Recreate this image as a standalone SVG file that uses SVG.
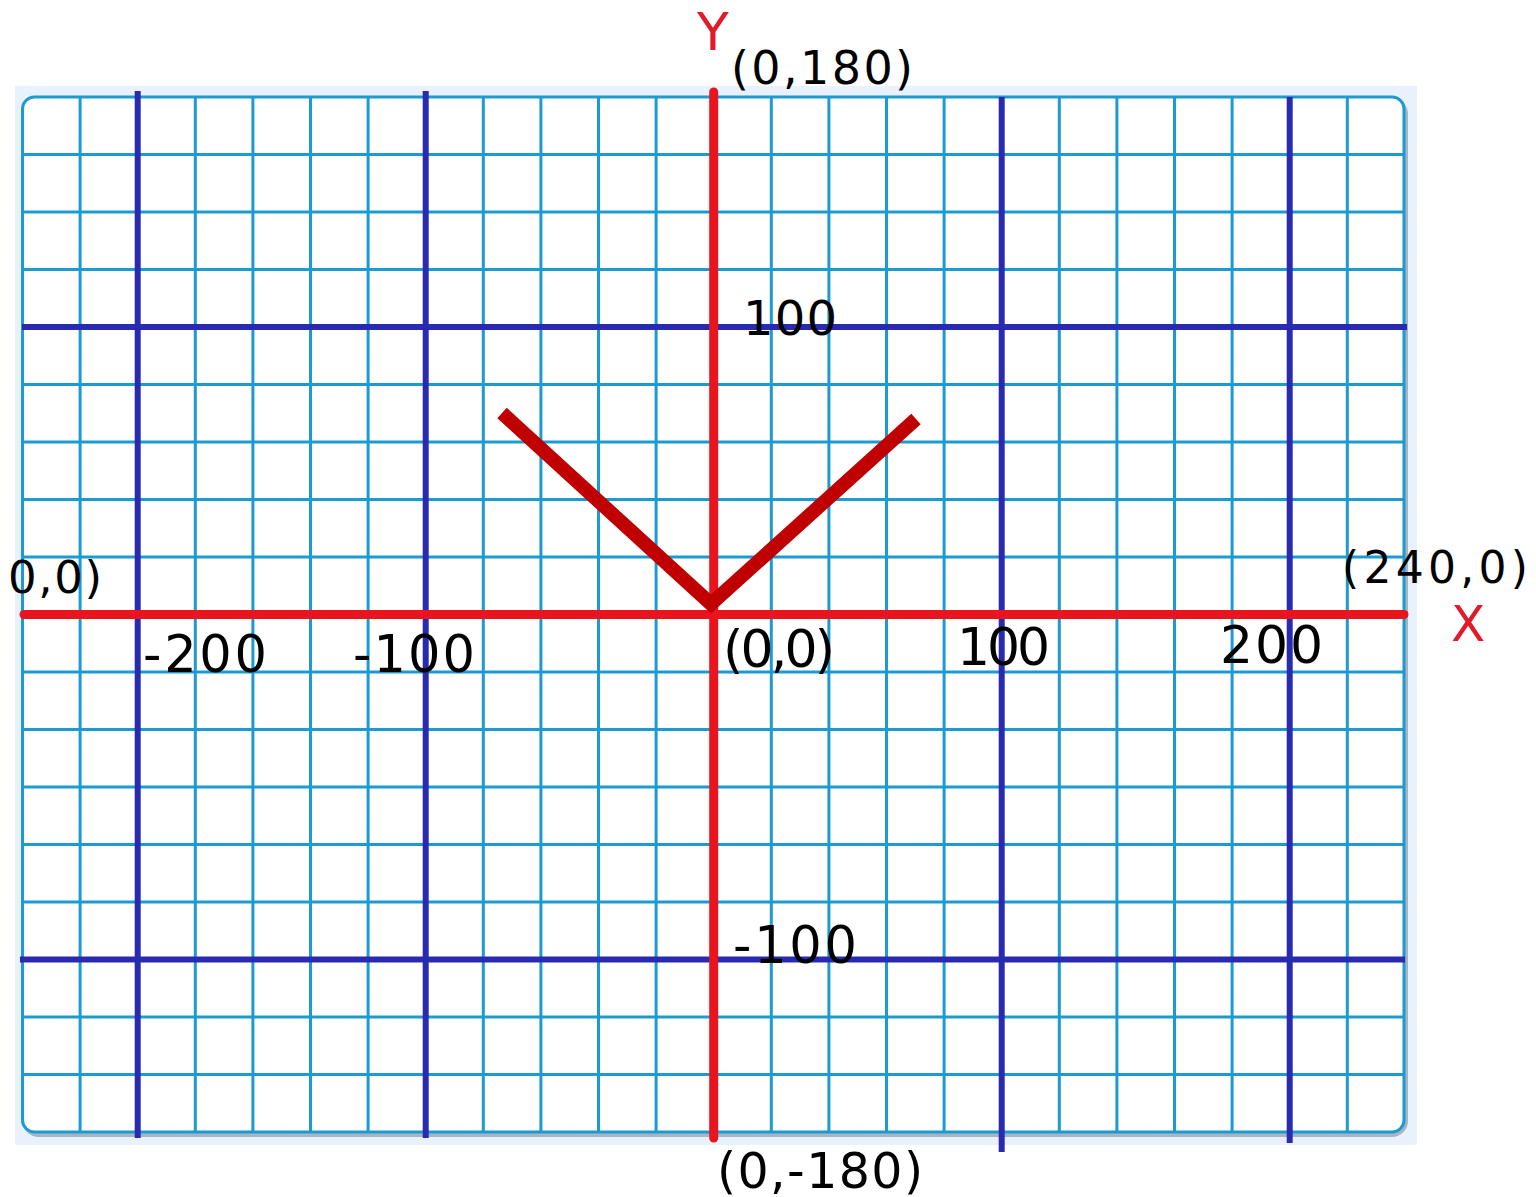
<svg xmlns="http://www.w3.org/2000/svg" width="1536" height="1197" viewBox="0 0 1536 1197">
<style>
.minor{stroke:#1b9bd1;stroke-width:3;fill:none}
.major{stroke:#2a2ab0;stroke-width:6;fill:none}
.axis{stroke:#e8141e;stroke-width:9;fill:none;stroke-linecap:round}
.lbl{font-family:"DejaVu Sans","Liberation Sans",sans-serif;fill:#000}
.ax{font-family:"DejaVu Sans","Liberation Sans",sans-serif;fill:#e01b2a}
</style>
<rect width="1536" height="1197" fill="#ffffff"/>
<g id="panel">
<rect x="15" y="86" width="1402" height="1059" fill="#e8f1fc"/>
<rect x="24.5" y="100" width="1381.5" height="1035" rx="14" fill="none" stroke="#aab4c2" stroke-width="4"/>
<rect x="22.5" y="97" width="1381.5" height="1035" rx="12" fill="#ffffff" stroke="#1b9bd1" stroke-width="3"/>
</g>
<g id="grid-minor" class="minor">
<path d="M80.1 97V1132M195.3 97V1132M252.9 97V1132M310.5 97V1132M368.1 97V1132M483.3 97V1132M540.9 97V1132M598.5 97V1132M656.1 97V1132M771.3 97V1132M828.9 97V1132M886.5 97V1132M944.1 97V1132M1059.3 97V1132M1116.9 97V1132M1174.5 97V1132M1232.1 97V1132M1347.3 97V1132"/>
<path d="M22.5 154.5H1404M22.5 212H1404M22.5 269.5H1404M22.5 384.5H1404M22.5 442H1404M22.5 499.5H1404M22.5 557H1404M22.5 672H1404M22.5 729.5H1404M22.5 787H1404M22.5 844.5H1404M22.5 902H1404M22.5 1017H1404M22.5 1074.5H1404"/>
</g>
<g id="grid-major" class="major">
<path d="M137.7 91V1138M425.7 91V1138M1001.7 97V1152M1289.7 97V1143"/>
<path d="M22 327H1407M20 959.5H1405"/>
</g>
<g id="axes" class="axis">
<path d="M713.7 92V1138"/>
<path d="M24 614.5H1404"/>
</g>
<g id="v-shape">
<polyline points="502,413 711,604 916,419" fill="none" stroke="#c00000" stroke-width="14" stroke-linejoin="miter"/>
</g>
<g id="labels">
<text class="ax" x="697" y="50" font-size="52">Y</text>
<text class="lbl" x="731" y="84" font-size="46" textLength="182" lengthAdjust="spacing">(0,180)</text>
<text class="lbl" x="8" y="593" font-size="45" textLength="94" lengthAdjust="spacing">0,0)</text>
<text class="lbl" x="1342" y="583" font-size="44" textLength="186" lengthAdjust="spacing">(240,0)</text>
<text class="ax" x="1451" y="641" font-size="50">X</text>
<text class="lbl" x="143" y="672" font-size="51" textLength="124" lengthAdjust="spacing">-200</text>
<text class="lbl" x="353" y="672" font-size="51" textLength="122" lengthAdjust="spacing">-100</text>
<text class="lbl" x="723" y="667" font-size="52" textLength="112" lengthAdjust="spacing">(0,0)</text>
<text class="lbl" x="957" y="665" font-size="52" textLength="93" lengthAdjust="spacing">100</text>
<text class="lbl" x="1220" y="663" font-size="52" textLength="103" lengthAdjust="spacing">200</text>
<text class="lbl" x="743" y="335" font-size="48" textLength="94" lengthAdjust="spacing">100</text>
<text class="lbl" x="733" y="963" font-size="51" textLength="124" lengthAdjust="spacing">-100</text>
<text class="lbl" x="717" y="1188" font-size="49" textLength="206" lengthAdjust="spacing">(0,-180)</text>
</g>
</svg>
